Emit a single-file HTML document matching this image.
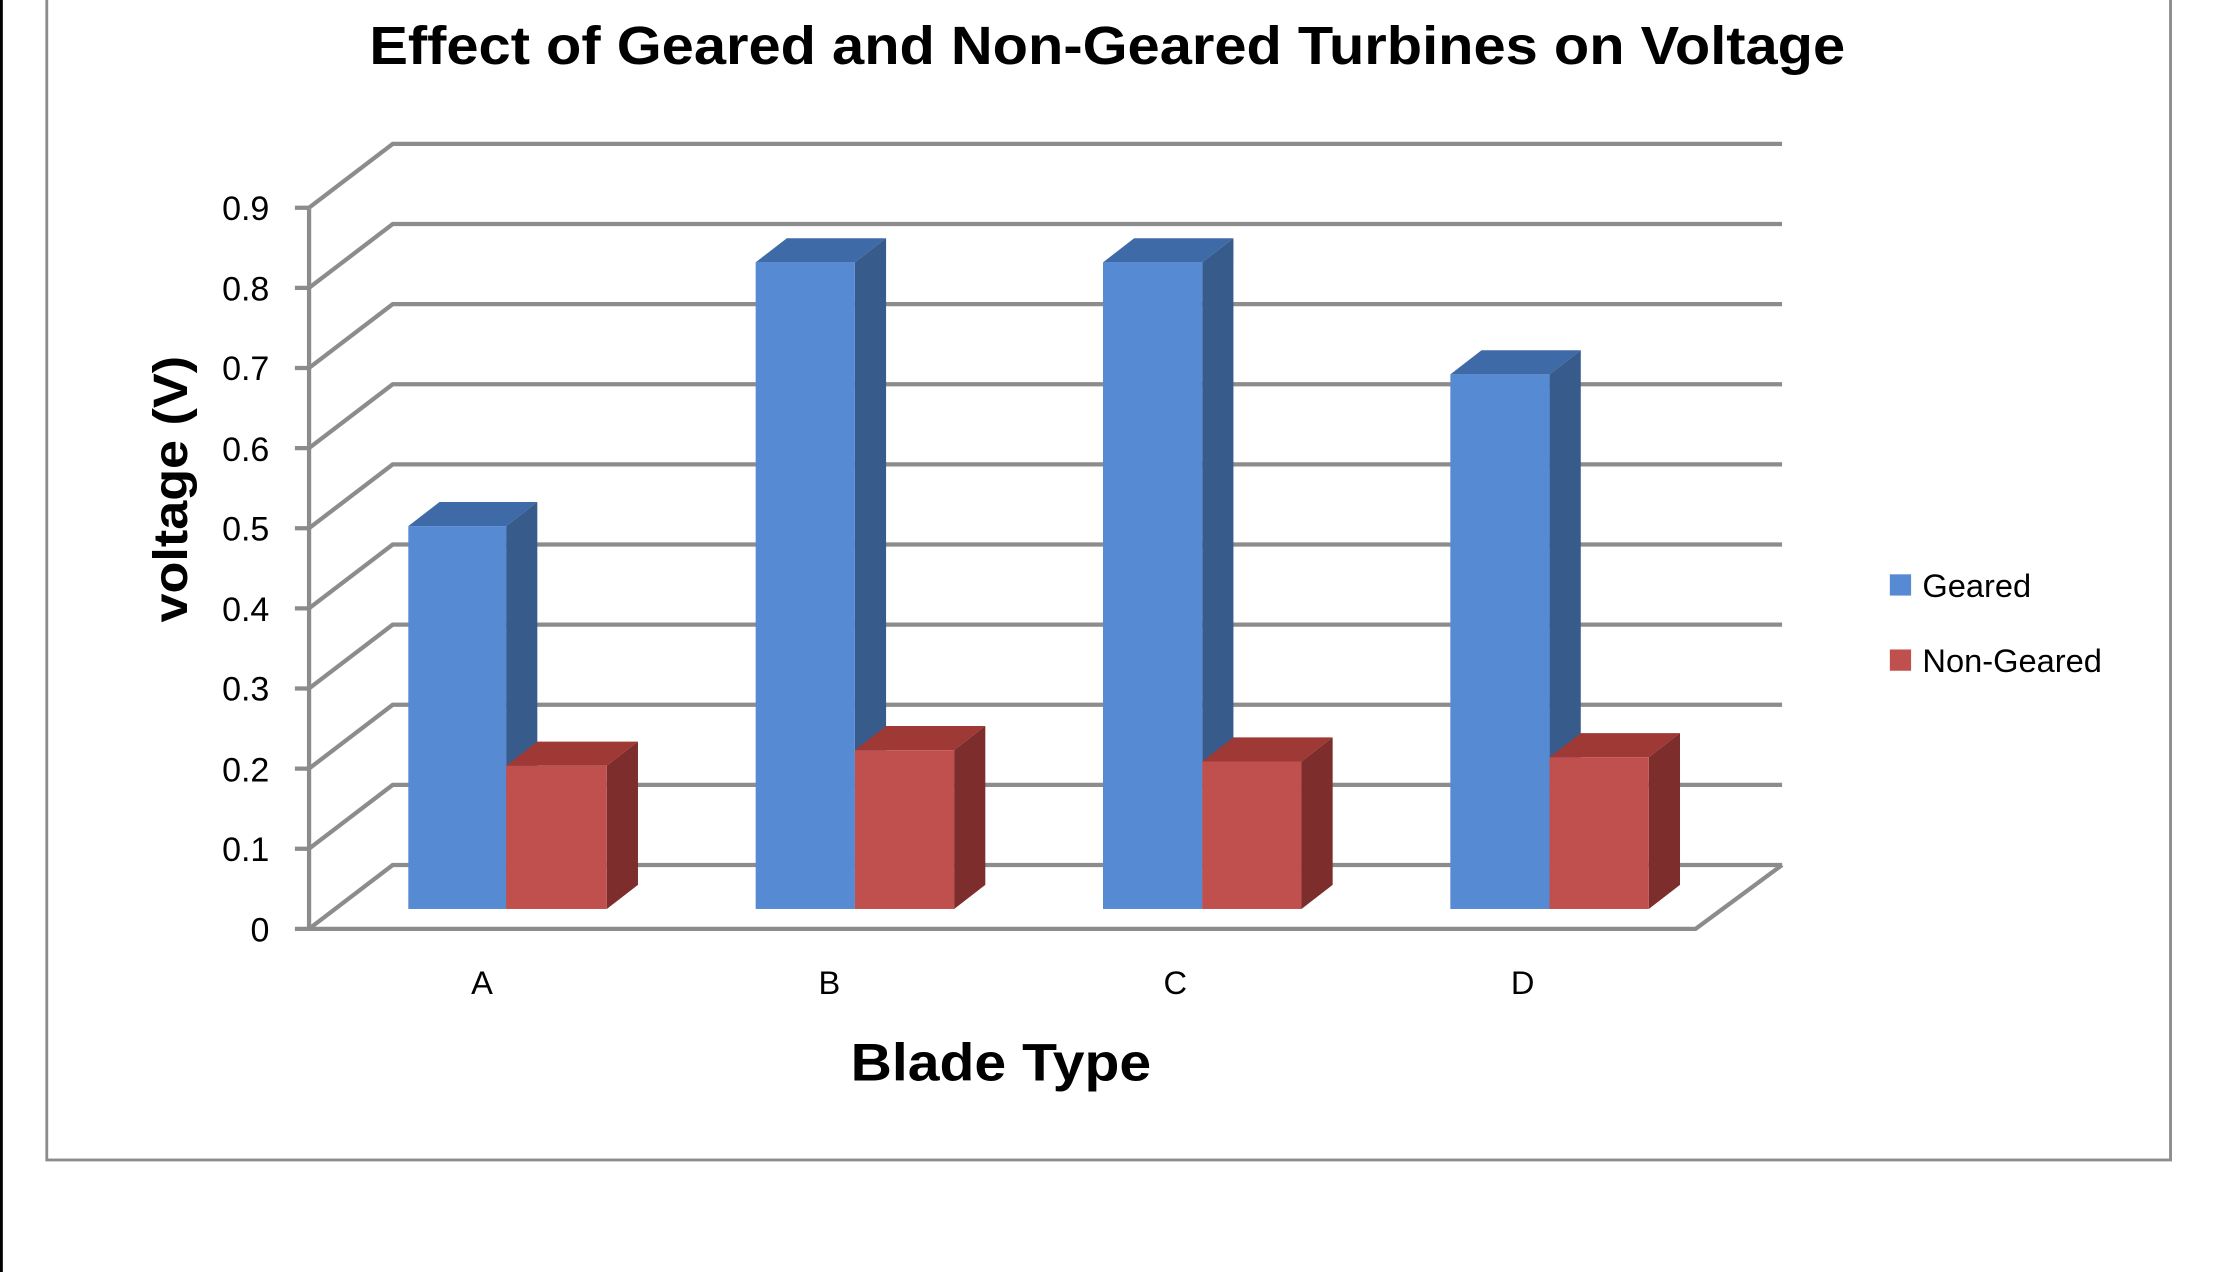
<!DOCTYPE html>
<html><head><style>html,body{margin:0;padding:0;background:#fff}svg{display:block}</style></head>
<body>
<svg width="2223" height="1272" viewBox="0 0 1568 897" preserveAspectRatio="none" xmlns="http://www.w3.org/2000/svg" font-family="'Liberation Sans', sans-serif">
<rect x="0" y="0" width="1568" height="897" fill="#fff"/>
<rect x="0" y="0" width="2" height="897" fill="#000"/>
<rect x="33" y="-5" width="1498" height="823" fill="none" stroke="#8c8c8c" stroke-width="2"/>
<text x="781" y="45" text-anchor="middle" font-weight="bold" font-size="38" textLength="1041" lengthAdjust="spacingAndGlyphs">Effect of Geared and Non-Geared Turbines on Voltage</text>
<g stroke="#8c8c8c" stroke-width="3" fill="none">
<path d="M218,147 L218,655 L1196,655 L1257,610"/>
<path d="M218,655 L277,610 L1257,610"/>
<path d="M218,598.5 L277,553.5 L1257,553.5"/>
<path d="M218,542 L277,497 L1257,497"/>
<path d="M218,485.5 L277,440.5 L1257,440.5"/>
<path d="M218,429 L277,384 L1257,384"/>
<path d="M218,372.5 L277,327.5 L1257,327.5"/>
<path d="M218,316 L277,271 L1257,271"/>
<path d="M218,259.5 L277,214.5 L1257,214.5"/>
<path d="M218,203 L277,158 L1257,158"/>
<path d="M218,146.5 L277,101.5 L1257,101.5"/>
<path d="M208,655 h10 M208,598.5 h10 M208,542 h10 M208,485.5 h10 M208,429 h10 M208,372.5 h10 M208,316 h10 M208,259.5 h10 M208,203 h10 M208,146.5 h10"/>
</g>
<g font-size="24" text-anchor="end" fill="#000">
<text x="190" y="664">0</text><text x="190" y="607">0.1</text><text x="190" y="551">0.2</text>
<text x="190" y="494">0.3</text><text x="190" y="438">0.4</text><text x="190" y="381">0.5</text>
<text x="190" y="325">0.6</text><text x="190" y="268">0.7</text><text x="190" y="212">0.8</text>
<text x="190" y="155">0.9</text>
</g>
<g>
<polygon points="288,371 310,354 379,354 357,371" fill="#3E6BA8"/>
<polygon points="357,371 379,354 379,624 357,641" fill="#375B8A"/>
<rect x="288" y="371" width="69" height="270" fill="#568BD3"/>
<polygon points="357,540 379,523 450,523 428,540" fill="#9E3936"/>
<polygon points="428,540 450,523 450,624 428,641" fill="#7D2E2C"/>
<rect x="357" y="540" width="71" height="101" fill="#C0504D"/>
<polygon points="533,185 555,168 625,168 603,185" fill="#3E6BA8"/>
<polygon points="603,185 625,168 625,624 603,641" fill="#375B8A"/>
<rect x="533" y="185" width="70" height="456" fill="#568BD3"/>
<polygon points="603,529 625,512 695,512 673,529" fill="#9E3936"/>
<polygon points="673,529 695,512 695,624 673,641" fill="#7D2E2C"/>
<rect x="603" y="529" width="70" height="112" fill="#C0504D"/>
<polygon points="778,185 800,168 870,168 848,185" fill="#3E6BA8"/>
<polygon points="848,185 870,168 870,624 848,641" fill="#375B8A"/>
<rect x="778" y="185" width="70" height="456" fill="#568BD3"/>
<polygon points="848,537 870,520 940,520 918,537" fill="#9E3936"/>
<polygon points="918,537 940,520 940,624 918,641" fill="#7D2E2C"/>
<rect x="848" y="537" width="70" height="104" fill="#C0504D"/>
<polygon points="1023,264 1045,247 1115,247 1093,264" fill="#3E6BA8"/>
<polygon points="1093,264 1115,247 1115,624 1093,641" fill="#375B8A"/>
<rect x="1023" y="264" width="70" height="377" fill="#568BD3"/>
<polygon points="1093,534 1115,517 1185,517 1163,534" fill="#9E3936"/>
<polygon points="1163,534 1185,517 1185,624 1163,641" fill="#7D2E2C"/>
<rect x="1093" y="534" width="70" height="107" fill="#C0504D"/>
</g>
<g font-size="23" text-anchor="middle">
<text x="340" y="701">A</text><text x="585" y="701">B</text><text x="829" y="701">C</text><text x="1074" y="701">D</text>
</g>
<text x="706" y="762" text-anchor="middle" font-weight="bold" font-size="37" textLength="212" lengthAdjust="spacingAndGlyphs">Blade Type</text>
<text transform="translate(132,345) rotate(-90)" text-anchor="middle" font-weight="bold" font-size="34" textLength="188" lengthAdjust="spacingAndGlyphs">voltage (V)</text>
<rect x="1333" y="405" width="15" height="15" fill="#568BD3"/>
<text x="1356" y="421" font-size="23">Geared</text>
<rect x="1333" y="458" width="15" height="15" fill="#C0504D"/>
<text x="1356" y="474" font-size="23">Non-Geared</text>
</svg>
</body></html>
